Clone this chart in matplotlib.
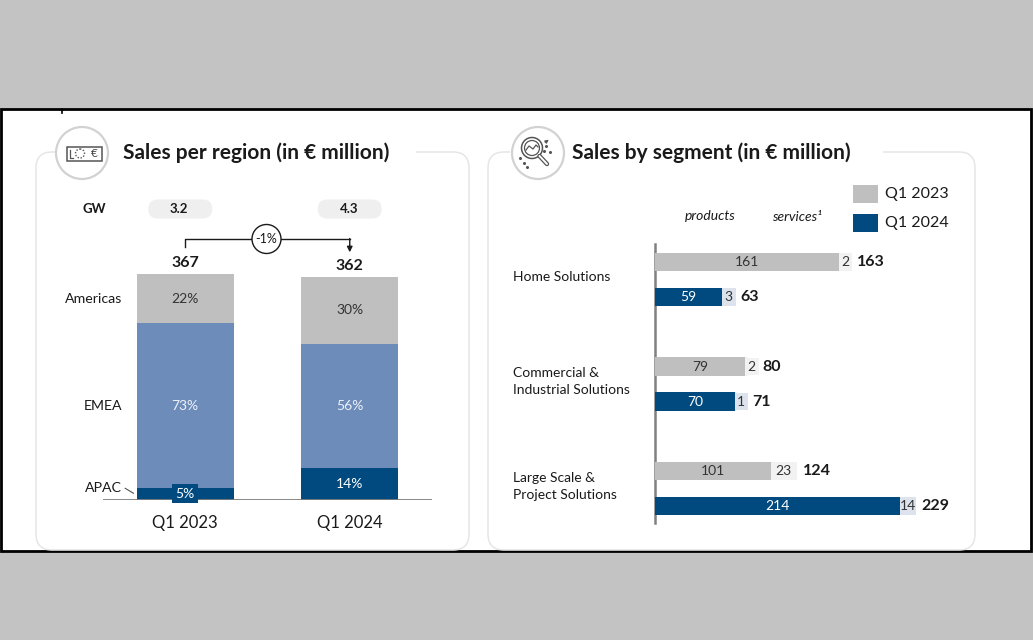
import matplotlib.pyplot as plt
from matplotlib.patches import FancyBboxPatch, Rectangle, Circle

plt.rcParams['font.family'] = ['Lato', 'DejaVu Sans']

# ---- data (left: sales per region) ----
quarters = ['Q1 2023', 'Q1 2024']
region_totals = [367, 362]
apac_pct = [5, 14]
emea_pct = [73, 56]
americas_pct = [22, 30]
gw_values = ['3.2', '4.3']
change_label = '-1%'

# ---- data (right: sales by segment) ----
segments = ['Home Solutions', 'Commercial &\nIndustrial Solutions', 'Large Scale &\nProject Solutions']
products_2023 = [161, 79, 101]
services_2023 = [2, 2, 23]
totals_2023 = [163, 80, 124]
products_2024 = [59, 70, 214]
services_2024 = [3, 1, 14]
totals_2024 = [63, 71, 229]

# colours
GRAY = '#bfbfbf'
LBLUE = '#6d8cba'
DBLUE = '#004a80'
SERV23 = '#f2f2f2'
SERV24 = '#dde3ed'
TXT = '#1a1a1a'

W, H = 1033, 640
fig = plt.figure(figsize=(W / 100, H / 100), dpi=100)
fig.patch.set_facecolor('#c3c3c3')

# background axes in pixel coordinates
bg = fig.add_axes([0, 0, 1, 1])
bg.set_xlim(0, W)
bg.set_ylim(H, 0)
bg.axis('off')

bg.add_patch(Rectangle((1, 109), 1030, 442, fc='white', ec='black', lw=2))
bg.plot([62, 62], [109, 113], color='black', lw=1.2)

# rounded panels
for x0, x1, gap0, gap1 in [(36, 469, 56, 416), (488, 975, 510, 883)]:
    bg.add_patch(FancyBboxPatch((x0, 152), x1 - x0, 398,
                                boxstyle='round,pad=0,rounding_size=16',
                                fc='white', ec='#e6e6e6', lw=1.1))
    bg.add_patch(Rectangle((gap0, 148), gap1 - gap0, 8, fc='white', ec='none', zorder=2))

# icon circles
for cx in (82, 538):
    bg.add_patch(Circle((cx, 153), 26, fc='white', ec='#d2d2d2', lw=1.6, zorder=3))

# banknote icon
bg.add_patch(Rectangle((67, 146.5), 35, 14, fc='none', ec='#555555', lw=1.1, zorder=4))
bg.add_patch(Circle((80, 153.5), 4.5, fc='none', ec='#555555', lw=1, ls=(0, (1, 1.2)), zorder=4))
bg.plot([69.5, 69.5, 73], [150, 157.5, 157.5], color='#555555', lw=0.9, zorder=4)
bg.text(94.5, 153.8, '€', fontsize=8.5, color='#444444', ha='center', va='center', zorder=4)

# magnifier icon
bg.add_patch(Circle((532, 148), 10.5, fc='none', ec='#555555', lw=1.1, zorder=4))
bg.add_patch(Circle((532, 148), 7.5, fc='none', ec='#555555', lw=0.9, zorder=4))
bg.plot([526, 529, 533, 536, 538], [150, 146, 149, 145, 147], color='#555555', lw=0.9, zorder=4)
bg.plot([539.5, 547], [156, 164], color='#555555', lw=3.2, solid_capstyle='round', zorder=4)
bg.plot([539.5, 547], [156, 164], color='white', lw=1.4, solid_capstyle='round', zorder=4)
for dx, dy in [(524, 163), (527, 167), (546, 146), (550, 152), (520, 158), (544, 151)]:
    bg.plot(dx, dy, 'o', ms=1.2, color='#555555', zorder=4)
bg.annotate('', xy=(551, 138), xytext=(543, 144),
            arrowprops=dict(arrowstyle='-|>', color='#555555', lw=0.8, mutation_scale=5), zorder=4)

# titles
bg.text(123, 153, 'Sales per region (in € million)', fontsize=15, weight='bold',
        color=TXT, va='center', ha='left', zorder=4)
bg.text(572, 153, 'Sales by segment (in € million)', fontsize=15, weight='bold',
        color=TXT, va='center', ha='left', zorder=4)

# ---------------- left chart ----------------
px_per_unit_l = 0.615
l_left, l_right, l_base, l_top = 103, 432, 499.5, 190
ax_l = fig.add_axes([l_left / W, (H - l_base) / H, (l_right - l_left) / W, (l_base - l_top) / H])
ax_l.set_facecolor('none')
ax_l.set_xlim(-0.5, 1.5)
ax_l.set_ylim(0, (l_base - l_top) / px_per_unit_l)
for s in ax_l.spines.values():
    s.set_visible(False)
ax_l.set_yticks([])
ax_l.set_xticks(range(len(quarters)), quarters, fontsize=12, color=TXT)
ax_l.tick_params(axis='x', length=0, pad=11)
ax_l.axhline(0, color='#7f7f7f', lw=1.3, zorder=5)

xs = list(range(len(quarters)))
apac = [t * p / 100 for t, p in zip(region_totals, apac_pct)]
emea = [t * p / 100 for t, p in zip(region_totals, emea_pct)]
amer = [t * p / 100 for t, p in zip(region_totals, americas_pct)]
bw = 0.59
ax_l.bar(xs, apac, bw, color=DBLUE, zorder=3)
ax_l.bar(xs, emea, bw, bottom=apac, color=LBLUE, zorder=3)
ax_l.bar(xs, amer, bw, bottom=[a + e for a, e in zip(apac, emea)], color=GRAY, zorder=3)

for i in xs:
    ax_l.text(i, apac[i] / 2, f'{apac_pct[i]}%', ha='center', va='center', fontsize=10,
              color='white', zorder=6,
              bbox=dict(boxstyle='square,pad=0.25', fc=DBLUE, ec='none') if apac_pct[i] < 8 else None)
    ax_l.text(i, apac[i] + emea[i] / 2, f'{emea_pct[i]}%', ha='center', va='center',
              fontsize=10, color='#eef2f7', zorder=6)
    ax_l.text(i, apac[i] + emea[i] + amer[i] / 2, f'{americas_pct[i]}%', ha='center',
              va='center', fontsize=10, color='#333333', zorder=6)
    ax_l.annotate(str(region_totals[i]), (i, region_totals[i]), xytext=(0, 8),
                  textcoords='offset points', ha='center', va='center', fontsize=11.5,
                  weight='bold', color=TXT)

# row labels next to first bar
lab_x = -0.385
ax_l.text(lab_x, apac[0] + emea[0] + amer[0] / 2, 'Americas', ha='right', va='center', fontsize=10.2, color=TXT)
ax_l.text(lab_x, apac[0] + emea[0] / 2, 'EMEA', ha='right', va='center', fontsize=10.2, color=TXT)
ax_l.text(lab_x, apac[0] / 2 + 9, 'APAC', ha='right', va='center', fontsize=10.2, color=TXT)
ax_l.plot([lab_x + 0.02, lab_x + 0.07], [apac[0] / 2 + 9, apac[0] / 2 + 1], color='#555555', lw=0.8, clip_on=False)

# change bracket
y_h = max(region_totals) + 423.6 - 367
ax_l.plot([0, 0, 1], [region_totals[0] + 43, y_h, y_h], color=TXT, lw=1, clip_on=False)
ax_l.annotate('', xy=(1, region_totals[1] + 40), xytext=(1, y_h + 0.8),
              arrowprops=dict(arrowstyle='-|>', color=TXT, lw=1, mutation_scale=8,
                              shrinkA=0, shrinkB=0), annotation_clip=False)


def to_px(ax, x, y):
    d = ax.transData.transform((x, y))
    return d[0], H - d[1]


cx_l, cy_l = to_px(ax_l, 0.5, y_h)
ax_l.add_patch(Circle((cx_l - 1, cy_l), 14.5, fc='white', ec=TXT, lw=1, zorder=8,
                      transform=bg.transData, clip_on=False))
ax_l.text(cx_l - 1, cy_l, change_label, ha='center', va='center', fontsize=9, color=TXT,
          zorder=9, transform=bg.transData)

# GW row
bg.text(94, 209, 'GW', ha='center', va='center', fontsize=9.5, weight='bold', color=TXT)
for i, g in enumerate(gw_values):
    cx, _ = to_px(ax_l, i, 0)
    cx -= 5 if i == 0 else 0
    bg.add_patch(FancyBboxPatch((cx - 32, 199.5), 64, 19, boxstyle='round,pad=0,rounding_size=9.5',
                                fc='#efefef', ec='none'))
    bg.text(cx - 1, 209, g, ha='center', va='center', fontsize=9.5, weight='bold', color=TXT)

# ---------------- right chart ----------------
px_per_unit_r = 1.145
r_left, r_right, r_top, r_bot = 655, 955, 244, 523
ax_r = fig.add_axes([r_left / W, (H - r_bot) / H, (r_right - r_left) / W, (r_bot - r_top) / H])
ax_r.set_facecolor('none')
ax_r.set_xlim(0, (r_right - r_left) / px_per_unit_r)
ax_r.set_ylim(2.33, -0.34)
for k, s in ax_r.spines.items():
    s.set_visible(k == 'left')
ax_r.spines['left'].set_color('#808080')
ax_r.spines['left'].set_linewidth(1.8)
ax_r.set_xticks([])
ax_r.set_yticks([])

off = 0.1675
bh = 0.18
y23 = [i - off for i in range(len(segments))]
y24 = [i + off for i in range(len(segments))]
ax_r.barh(y23, products_2023, bh, color=GRAY, zorder=3)
ax_r.barh(y23, services_2023, bh, left=products_2023, color=SERV23, zorder=3)
ax_r.barh(y24, products_2024, bh, color=DBLUE, zorder=3)
ax_r.barh(y24, services_2024, bh, left=products_2024, color=SERV24, zorder=3)

for ys, prod, serv, tot, pcol, scol in [(y23, products_2023, services_2023, totals_2023, '#333333', SERV23),
                                         (y24, products_2024, services_2024, totals_2024, 'white', SERV24)]:
    for y, p, s, t in zip(ys, prod, serv, tot):
        ax_r.text(p / 2, y, str(p), ha='center', va='center', fontsize=10, color=pcol, zorder=5)
        if s * px_per_unit_r < 14:
            ax_r.annotate(str(s), (p, y), xytext=(4.5, 0), textcoords='offset points',
                          ha='center', va='center', fontsize=10, color='#333333', zorder=5,
                          bbox=dict(boxstyle='square,pad=0.2', fc=scol, ec='none'))
            ax_r.annotate(str(t), (p, y), xytext=(12.5, 0), textcoords='offset points',
                          ha='left', va='center', fontsize=11.5, weight='bold', color=TXT)
        else:
            ax_r.text(p + s / 2, y, str(s), ha='center', va='center', fontsize=10,
                      color='#333333', zorder=5)
            ax_r.annotate(str(t), (p + s, y), xytext=(4, 0), textcoords='offset points',
                          ha='left', va='center', fontsize=11.5, weight='bold', color=TXT)

for i, seg in enumerate(segments):
    ax_r.text(-124, i - 0.02, seg, ha='left', va='center', fontsize=10, color=TXT,
              linespacing=1.5, clip_on=False)

ax_r.text(48, -0.61, 'products', ha='center', va='center', fontsize=10, style='italic', color=TXT)
ax_r.text(124, -0.60, 'services¹', ha='center', va='center', fontsize=10, style='italic', color=TXT)

# legend
for y, col, lab in [(185, GRAY, quarters[0]), (214, DBLUE, quarters[1])]:
    bg.add_patch(Rectangle((853, y), 25, 17.5, fc=col, ec='none'))
    bg.text(885, y + 9, lab, ha='left', va='center', fontsize=11.5, color=TXT)

fig.savefig('out.png', dpi=100, facecolor=fig.get_facecolor())
